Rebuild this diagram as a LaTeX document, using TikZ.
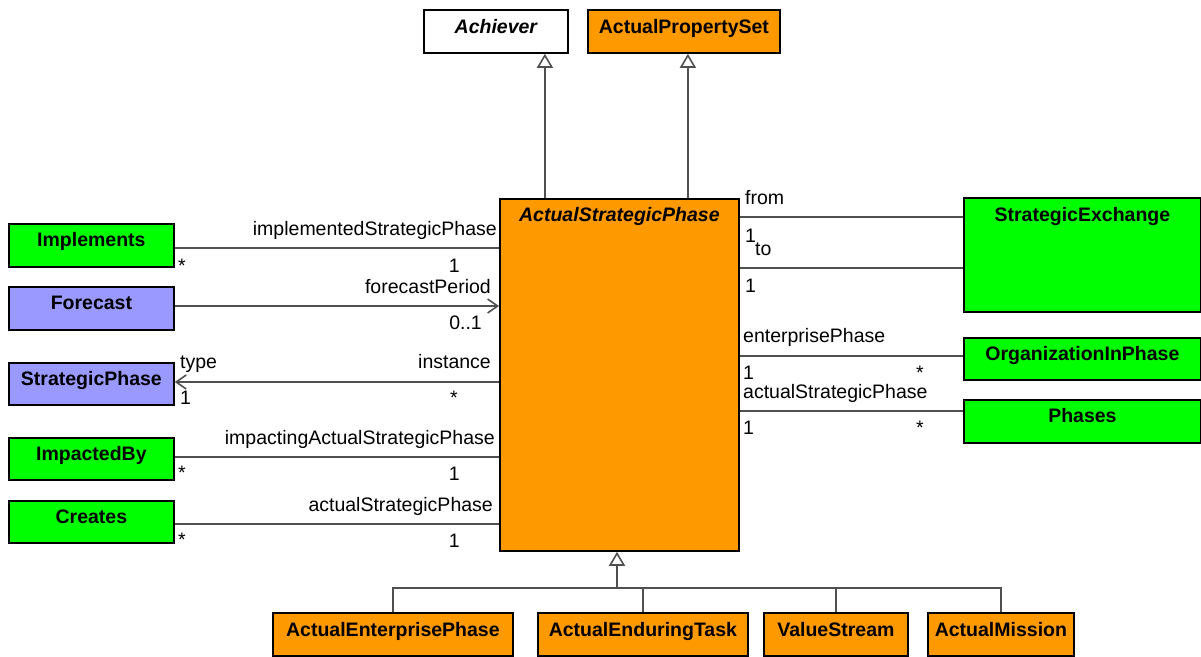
\documentclass[tikz,border=0pt]{standalone}
\usepackage{fontspec}
\setmainfont{Liberation Sans}
\usetikzlibrary{arrows.meta}
\definecolor{cgreen}{HTML}{00FF00}
\definecolor{corange}{HTML}{FF9900}
\definecolor{cblue}{HTML}{9999FF}
\definecolor{cline}{HTML}{505050}
\begin{document}
\begin{tikzpicture}[x=1pt,y=-1pt,
  font=\fontsize{19.5}{22}\selectfont,
  box/.style={draw=black, line width=1.8pt, inner sep=0pt, anchor=north west},
  ttl/.style={font=\fontsize{19.5}{22}\selectfont\bfseries, anchor=base, inner sep=0pt},
  conn/.style={draw=cline, line width=1.6pt},
  gen/.style={conn, -{Triangle[open, length=14pt, width=16pt, fill=white, line width=1.6pt]}},
  nav/.style={conn, -{Straight Barb[length=10pt, width=14pt]}},
  lab/.style={inner sep=0pt},
]
\useasboundingbox (0,0) rectangle (1201,656);
\fill[white] (0,0) rectangle (1201,656);

% top boxes
\node[box, fill=white, minimum width=144pt, minimum height=43pt] (ach) at (423,9) {};
\node[ttl, font=\fontsize{19.5}{22}\selectfont\bfseries\itshape] (achT) at ([yshift=-24pt]ach.north) {Achiever};
\node[box, fill=corange, minimum width=192pt, minimum height=43pt] (aps) at (587,9) {};
\node[ttl] (apsT) at ([yshift=-24pt]aps.north) {ActualPropertySet};

% central box
\node[box, fill=corange, minimum width=239pt, minimum height=352pt] (asp) at (499,198) {};
\node[ttl, font=\fontsize{19.5}{22}\selectfont\bfseries\itshape] (aspT) at ([yshift=-23pt]asp.north) {ActualStrategicPhase};

% left boxes
\node[box, fill=cgreen, minimum width=165pt, minimum height=43pt] (impl) at (8,223) {};
\node[ttl] (implT) at ([yshift=-23pt]impl.north) {Implements};
\node[box, fill=cblue, minimum width=165pt, minimum height=43pt] (fc) at (8,286) {};
\node[ttl] (fcT) at ([yshift=-23pt]fc.north) {Forecast};
\node[box, fill=cblue, minimum width=165pt, minimum height=42pt] (sp) at (8,362) {};
\node[ttl] (spT) at ([yshift=-23pt]sp.north) {StrategicPhase};
\node[box, fill=cgreen, minimum width=165pt, minimum height=42pt] (ib) at (8,437) {};
\node[ttl] (ibT) at ([yshift=-23pt]ib.north) {ImpactedBy};
\node[box, fill=cgreen, minimum width=165pt, minimum height=42pt] (cr) at (8,500) {};
\node[ttl] (crT) at ([yshift=-23pt]cr.north) {Creates};

% right boxes
\node[box, fill=cgreen, minimum width=237pt, minimum height=114pt] (se) at (963,197) {};
\node[ttl] (seT) at ([yshift=-24pt]se.north) {StrategicExchange};
\node[box, fill=cgreen, minimum width=237pt, minimum height=42pt] (oip) at (963,337) {};
\node[ttl] (oipT) at ([yshift=-23pt]oip.north) {OrganizationInPhase};
\node[box, fill=cgreen, minimum width=237pt, minimum height=43pt] (ph) at (963,399) {};
\node[ttl] (phT) at ([yshift=-23pt]ph.north) {Phases};

% bottom boxes
\node[box, fill=corange, minimum width=240pt, minimum height=43pt] (aep) at (272,612) {};
\node[ttl] (aepT) at ([yshift=-24pt]aep.north) {ActualEnterprisePhase};
\node[box, fill=corange, minimum width=210pt, minimum height=43pt] (aet) at (537,612) {};
\node[ttl] (aetT) at ([yshift=-24pt]aet.north) {ActualEnduringTask};
\node[box, fill=corange, minimum width=144pt, minimum height=43pt] (vs) at (763,612) {};
\node[ttl] (vsT) at ([yshift=-24pt]vs.north) {ValueStream};
\node[box, fill=corange, minimum width=146pt, minimum height=43pt] (am) at (927,612) {};
\node[ttl] (amT) at ([yshift=-24pt]am.north) {ActualMission};

% generalizations (top)
\draw[gen] ([xshift=49pt]ach.south |- asp.north) -- ([xshift=49pt]ach.south);
\draw[gen] ([xshift=4pt]aps.south |- asp.north) -- ([xshift=4pt]aps.south);

% generalization (bottom)
\coordinate (bus) at (617,588);
\draw[conn] (aep.north) |- (am.north |- bus) -- (am.north);
\draw[conn] (aet.north) -- (aet.north |- bus);
\draw[conn] (vs.north) -- (vs.north |- bus);
\draw[gen] (bus) -- (bus |- asp.south);

% left connectors
\draw[conn] (impl.east |- 0,248) -- (asp.west |- 0,248);
\draw[nav] (fc.east |- 0,306) -- (asp.west |- 0,306);
\draw[nav] (asp.west |- 0,382) -- (sp.east |- 0,382);
\draw[conn] (ib.east |- 0,457) -- (asp.west |- 0,457);
\draw[conn] (cr.east |- 0,524) -- (asp.west |- 0,524);

% right connectors
\draw[conn] (asp.east |- 0,217) -- (se.west |- 0,217);
\draw[conn] (asp.east |- 0,268) -- (se.west |- 0,268);
\draw[conn] (asp.east |- 0,356) -- (oip.west |- 0,356);
\draw[conn] (asp.east |- 0,411) -- (ph.west |- 0,411);

% left labels
\node[lab, anchor=base east] (l1) at (497,235) {implementedStrategicPhase};
\node[lab, anchor=base west] (l2) at (178,272) {*};
\node[lab, anchor=base east] (l3) at (460,272) {1};
\node[lab, anchor=base east] (l4) at (491,293) {forecastPeriod};
\node[lab, anchor=base east] (l5) at (482,329) {0..1};
\node[lab, anchor=base west] (l6) at (180,368) {type};
\node[lab, anchor=base west] (l7) at (180,404) {1};
\node[lab, anchor=base east] (l8) at (491,368) {instance};
\node[lab, anchor=base east] (l9) at (458,404) {*};
\node[lab, anchor=base east] (l10) at (495,444) {impactingActualStrategicPhase};
\node[lab, anchor=base west] (l11) at (178,479) {*};
\node[lab, anchor=base east] (l12) at (460,480) {1};
\node[lab, anchor=base east] (l13) at (493,511) {actualStrategicPhase};
\node[lab, anchor=base west] (l14) at (178,546) {*};
\node[lab, anchor=base east] (l15) at (460,547) {1};

% right labels
\node[lab, anchor=base west] (r1) at (745,204) {from};
\node[lab, anchor=base west] (r2) at (745,242) {1};
\node[lab, anchor=base west] (r3) at (755,255) {to};
\node[lab, anchor=base west] (r4) at (745,292) {1};
\node[lab, anchor=base west] (r5) at (743,342) {enterprisePhase};
\node[lab, anchor=base west] (r6) at (743,379) {1};
\node[lab, anchor=base west] (r7) at (916,379) {*};
\node[lab, anchor=base west] (r8) at (743,398) {actualStrategicPhase};
\node[lab, anchor=base west] (r9) at (743,434) {1};
\node[lab, anchor=base west] (r10) at (916,434) {*};
\end{tikzpicture}
\end{document}
